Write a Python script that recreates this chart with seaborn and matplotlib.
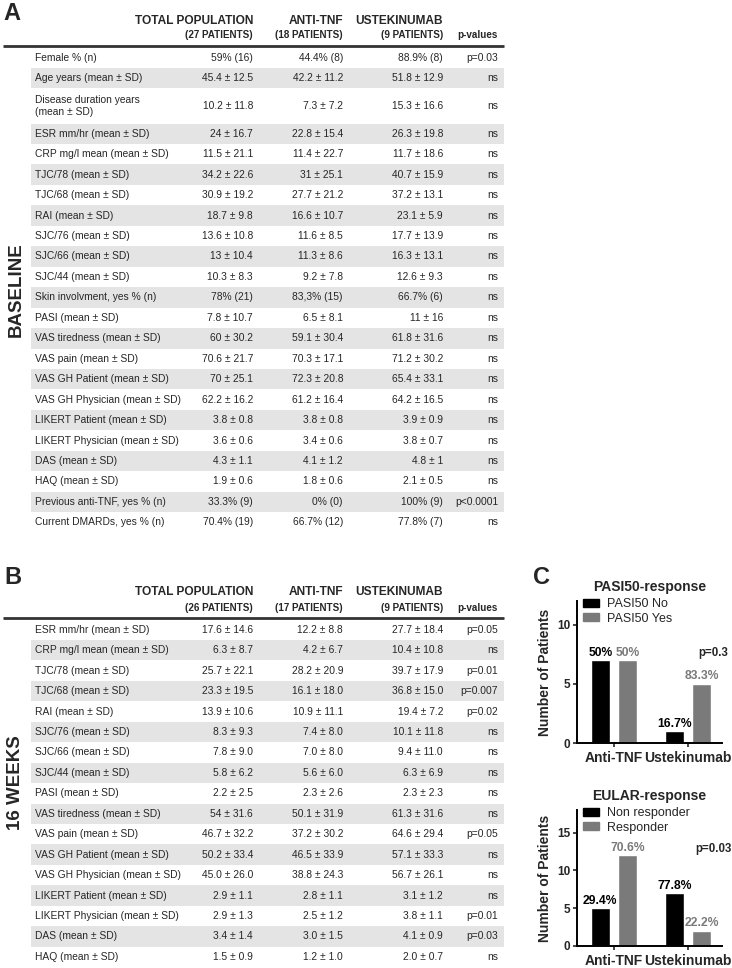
import numpy as np
import pandas as pd
import matplotlib
matplotlib.use('Agg')
import matplotlib.pyplot as plt
from matplotlib.patches import Patch
import seaborn as sns

# ---------------- data: table A (baseline) ----------------
base_labels = ['Female % (n)', 'Age years (mean ± SD)', 'Disease duration years\n(mean ± SD)',
               'ESR mm/hr (mean ± SD)', 'CRP mg/l mean (mean ± SD)', 'TJC/78 (mean ± SD)',
               'TJC/68 (mean ± SD)', 'RAI (mean ± SD)', 'SJC/76 (mean ± SD)', 'SJC/66 (mean ± SD)',
               'SJC/44 (mean ± SD)', 'Skin involvment, yes % (n)', 'PASI (mean ± SD)',
               'VAS tiredness (mean ± SD)', 'VAS pain (mean ± SD)', 'VAS GH Patient (mean ± SD)',
               'VAS GH Physician (mean ± SD)', 'LIKERT Patient (mean ± SD)',
               'LIKERT Physician (mean ± SD)', 'DAS (mean ± SD)', 'HAQ (mean ± SD)',
               'Previous anti-TNF, yes % (n)', 'Current DMARDs, yes % (n)']
base_total = ['59% (16)', '45.4 ± 12.5', '10.2 ± 11.8', '24 ± 16.7', '11.5 ± 21.1', '34.2 ± 22.6',
              '30.9 ± 19.2', '18.7 ± 9.8', '13.6 ± 10.8', '13 ± 10.4', '10.3 ± 8.3', '78% (21)',
              '7.8 ± 10.7', '60 ± 30.2', '70.6 ± 21.7', '70 ± 25.1', '62.2 ± 16.2', '3.8 ± 0.8',
              '3.6 ± 0.6', '4.3 ± 1.1', '1.9 ± 0.6', '33.3% (9)', '70.4% (19)']
base_anti = ['44.4% (8)', '42.2 ± 11.2', '7.3 ± 7.2', '22.8 ± 15.4', '11.4 ± 22.7', '31 ± 25.1',
             '27.7 ± 21.2', '16.6 ± 10.7', '11.6 ± 8.5', '11.3 ± 8.6', '9.2 ± 7.8', '83,3% (15)',
             '6.5 ± 8.1', '59.1 ± 30.4', '70.3 ± 17.1', '72.3 ± 20.8', '61.2 ± 16.4', '3.8 ± 0.8',
             '3.4 ± 0.6', '4.1 ± 1.2', '1.8 ± 0.6', '0% (0)', '66.7% (12)']
base_ust = ['88.9% (8)', '51.8 ± 12.9', '15.3 ± 16.6', '26.3 ± 19.8', '11.7 ± 18.6', '40.7 ± 15.9',
            '37.2 ± 13.1', '23.1 ± 5.9', '17.7 ± 13.9', '16.3 ± 13.1', '12.6 ± 9.3', '66.7% (6)',
            '11 ± 16', '61.8 ± 31.6', '71.2 ± 30.2', '65.4 ± 33.1', '64.2 ± 16.5', '3.9 ± 0.9',
            '3.8 ± 0.7', '4.8 ± 1', '2.1 ± 0.5', '100% (9)', '77.8% (7)']
base_p = ['p=0.03', 'ns', 'ns', 'ns', 'ns', 'ns', 'ns', 'ns', 'ns', 'ns', 'ns', 'ns', 'ns',
          'ns', 'ns', 'ns', 'ns', 'ns', 'ns', 'ns', 'ns', 'p<0.0001', 'ns']
base_n = ['(27 PATIENTS)', '(18 PATIENTS)', '(9 PATIENTS)']

# ---------------- data: table B (16 weeks) ----------------
wk_labels = ['ESR mm/hr (mean ± SD)', 'CRP mg/l mean (mean ± SD)', 'TJC/78 (mean ± SD)',
             'TJC/68 (mean ± SD)', 'RAI (mean ± SD)', 'SJC/76 (mean ± SD)', 'SJC/66 (mean ± SD)',
             'SJC/44 (mean ± SD)', 'PASI (mean ± SD)', 'VAS tiredness (mean ± SD)',
             'VAS pain (mean ± SD)', 'VAS GH Patient (mean ± SD)', 'VAS GH Physician (mean ± SD)',
             'LIKERT Patient (mean ± SD)', 'LIKERT Physician (mean ± SD)', 'DAS (mean ± SD)',
             'HAQ (mean ± SD)']
wk_total = ['17.6 ± 14.6', '6.3 ± 8.7', '25.7 ± 22.1', '23.3 ± 19.5', '13.9 ± 10.6', '8.3 ± 9.3',
            '7.8 ± 9.0', '5.8 ± 6.2', '2.2 ± 2.5', '54 ± 31.6', '46.7 ± 32.2', '50.2 ± 33.4',
            '45.0 ± 26.0', '2.9 ± 1.1', '2.9 ± 1.3', '3.4 ± 1.4', '1.5 ± 0.9']
wk_anti = ['12.2 ± 8.8', '4.2 ± 6.7', '28.2 ± 20.9', '16.1 ± 18.0', '10.9 ± 11.1', '7.4 ± 8.0',
           '7.0 ± 8.0', '5.6 ± 6.0', '2.3 ± 2.6', '50.1 ± 31.9', '37.2 ± 30.2', '46.5 ± 33.9',
           '38.8 ± 24.3', '2.8 ± 1.1', '2.5 ± 1.2', '3.0 ± 1.5', '1.2 ± 1.0']
wk_ust = ['27.7 ± 18.4', '10.4 ± 10.8', '39.7 ± 17.9', '36.8 ± 15.0', '19.4 ± 7.2', '10.1 ± 11.8',
          '9.4 ± 11.0', '6.3 ± 6.9', '2.3 ± 2.3', '61.3 ± 31.6', '64.6 ± 29.4', '57.1 ± 33.3',
          '56.7 ± 26.1', '3.1 ± 1.2', '3.8 ± 1.1', '4.1 ± 0.9', '2.0 ± 0.7']
wk_p = ['p=0.05', 'ns', 'p=0.01', 'p=0.007', 'p=0.02', 'ns', 'ns', 'ns', 'ns', 'ns', 'p=0.05',
        'ns', 'ns', 'ns', 'p=0.01', 'p=0.03', 'ns']
wk_n = ['(26 PATIENTS)', '(17 PATIENTS)', '(9 PATIENTS)']

col_heads = ['TOTAL POPULATION', 'ANTI-TNF', 'USTEKINUMAB']

# ---------------- data: panel C ----------------
groups = ['Anti-TNF', 'Ustekinumab']
pasi_no = [7, 1]
pasi_yes = [7, 5]
pasi_no_pct = ['50%', '16.7%']
pasi_yes_pct = ['50%', '83.3%']
eular_non = [5, 7]
eular_resp = [12, 2]
eular_non_pct = ['29.4%', '77.8%']
eular_resp_pct = ['70.6%', '22.2%']

sns.set_style('white')
plt.rcParams['font.family'] = ['Liberation Sans', 'DejaVu Sans']
BLACK = '#000000'
GREY = '#7a7a7a'

fig = plt.figure(figsize=(7.32, 9.68), dpi=100)
bg = fig.add_axes([0, 0, 1, 1])
bg.set_xlim(0, 732)
bg.set_ylim(968, 0)
bg.axis('off')

col_x = [253, 343, 443, 498]   # right edges of the value columns
ROW_H = 20.45
BODY = 7.4


def draw_table(y_head, y_sub, y_line, labels, total, anti, ust, pv, npat, tall=None):
    # header
    for x, h, s in zip(col_x[:3], col_heads, npat):
        bg.text(x, y_head, h, ha='right', va='center', fontsize=8.6, fontweight='bold')
        bg.text(x, y_sub, s, ha='right', va='center', fontsize=7.1, fontweight='bold')
    bg.text(col_x[3], y_sub, 'p-values', ha='right', va='center', fontsize=7.1, fontweight='bold')
    bg.plot([3, 504], [y_line, y_line], color='#333333', lw=2, solid_capstyle='butt')
    # rows
    top = y_line + 2
    for i, lab in enumerate(labels):
        h = ROW_H * 1.72 if i == tall else ROW_H
        yc = top + h / 2
        if i % 2 == 1:
            bg.fill_between([31, 504], top, top + h, color='#e4e4e4', lw=0)
        bg.text(35, yc, lab, ha='left', va='center', fontsize=BODY, linespacing=1.2)
        for x, v in zip(col_x, [total[i], anti[i], ust[i], pv[i]]):
            bg.text(x, yc, v, ha='right', va='center', fontsize=BODY)
        top += h
    return top


draw_table(21, 35, 45.5, base_labels, base_total, base_anti, base_ust, base_p, base_n, tall=2)
draw_table(592, 608, 617.5, wk_labels, wk_total, wk_anti, wk_ust, wk_p, wk_n)

bg.text(3, 13, 'A', fontsize=17, fontweight='bold', va='center', ha='left')
bg.text(4, 577, 'B', fontsize=17, fontweight='bold', va='center', ha='left')
bg.text(533, 578, 'C', fontsize=17, fontweight='bold', va='center', ha='left')
bg.text(16, 290, 'BASELINE', rotation=90, fontsize=13.5, fontweight='bold', va='center', ha='center')
bg.text(16, 783, '16 WEEKS', rotation=90, fontsize=13.5, fontweight='bold', va='center', ha='center')


def bar_panel(rect, no, yes, no_pct, yes_pct, lab_no, lab_yes, title, ymax, yticks, pval, py):
    ax = fig.add_axes(rect)
    df = pd.DataFrame({'group': groups * 2,
                       'resp': [lab_no] * 2 + [lab_yes] * 2,
                       'n': no + yes})
    sns.barplot(data=df, x='group', y='n', hue='resp', palette=[BLACK, GREY],
                width=0.74, gap=0.32, ax=ax, legend=False)
    ax.set_ylim(0, ymax)
    ax.set_xlim(-0.5, 1.46)
    ax.set_yticks(yticks)
    ax.set_xlabel('')
    ax.set_ylabel('Number of Patients', fontsize=10, fontweight='bold')
    ax.yaxis.set_label_coords(-0.17, 0.5)
    ax.set_title(title, fontsize=10, fontweight='bold', pad=7)
    sns.despine(ax=ax)
    for s in ['left', 'bottom']:
        ax.spines[s].set_linewidth(1.4)
        ax.spines[s].set_color('black')
    ax.tick_params(axis='both', which='major', direction='out', length=3, width=1.2,
                   bottom=True, left=True, pad=2)
    ax.tick_params(axis='x', labelsize=10, pad=3)
    ax.tick_params(axis='y', labelsize=8.5)
    for t in ax.get_xticklabels() + ax.get_yticklabels():
        t.set_fontweight('bold')
    ax.bar_label(ax.containers[0], labels=no_pct, color=BLACK, fontsize=8.7, fontweight='bold', padding=1)
    ax.bar_label(ax.containers[1], labels=yes_pct, color=GREY, fontsize=8.7, fontweight='bold', padding=1)
    ax.text(1.34, py, pval, ha='center', va='center', fontsize=8.3, fontweight='bold')
    ax.legend(handles=[Patch(color=BLACK), Patch(color=GREY)], labels=[lab_no, lab_yes],
              frameon=False, loc='upper left', bbox_to_anchor=(0.04, 1.02), fontsize=9,
              handlelength=1.3, handleheight=0.6, handletextpad=0.6, labelspacing=0.2,
              borderpad=0, borderaxespad=0)
    return ax


bar_panel([577 / 732, 1 - 743 / 968, 145 / 732, 142 / 968], pasi_no, pasi_yes, pasi_no_pct,
          pasi_yes_pct, 'PASI50 No', 'PASI50 Yes', 'PASI50-response', 12, [0, 5, 10], 'p=0.3', 7.6)
bar_panel([577 / 732, 1 - 946 / 968, 145 / 732, 136 / 968], eular_non, eular_resp, eular_non_pct,
          eular_resp_pct, 'Non responder', 'Responder', 'EULAR-response', 18, [0, 5, 10, 15], 'p=0.03', 12.8)

plt.savefig('out.png', dpi=100)
